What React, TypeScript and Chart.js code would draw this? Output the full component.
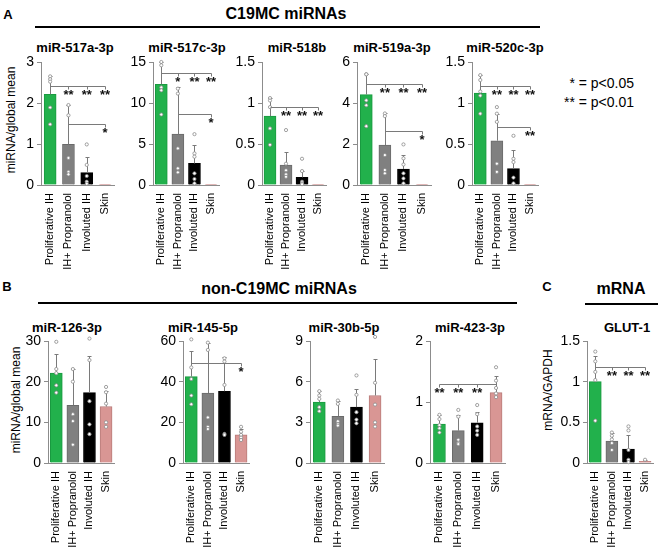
import React, { useEffect, useRef } from 'react';
import { Chart, registerables } from 'chart.js';

Chart.register(...registerables);
Chart.defaults.font.family = '"Liberation Sans", Arial, sans-serif';

// ---------- data ----------
const categories = ['Proliferative IH', 'IH+ Propranolol', 'Involuted IH', 'Skin'];

// miR-517a-3p
const mir517aMeans = [2.21, 0.99, 0.3, 0.005];
const mir517aErrs = [0.45, 0.95, 0.39, 0];
const mir517aPoints = [[2.65, 2.58, 2.52, 1.89, 1.48], [1.95, 1.7, 0.66, 0.32, 0.26], [0.99, 0.49, 0.22, 0.08, 0.03], []];
const mir517aSig = [
  { y: 2.42, from: 0, to: 3, marks: [[1, '**'], [2, '**'], [3, '**']] },
  { y: 1.48, from: 1, to: 3, marks: [[3, '*']] },
];

// miR-517c-3p
const mir517cMeans = [12.28, 6.2, 2.63, 0.03];
const mir517cErrs = [2.7, 5.76, 2.23, 0];
const mir517cPoints = [[15.0, 14.6, 11.9, 11.55, 8.6], [11.75, 11.15, 4.46, 2.03, 1.54], [6.2, 3.85, 3.45, 1.42, 0.73, 0.2], []];
const mir517cSig = [
  { y: 13.6, from: 0, to: 3, marks: [[1, '*'], [2, '**'], [3, '**']] },
  { y: 8.6, from: 1, to: 3, marks: [[3, '*']] },
];

// miR-518b
const mir518bMeans = [0.84, 0.243, 0.093, 0.003];
const mir518bErrs = [0.22, 0.16, 0.08, 0];
const mir518bPoints = [[1.06, 1.03, 0.95, 0.69, 0.49], [0.67, 0.26, 0.18, 0.13, 0.1], [0.32, 0.17, 0.04, 0.02, 0.01], []];
const mir518bSig = [{ y: 0.95, from: 0, to: 3, marks: [[1, '**'], [2, '**'], [3, '**']] }];

// miR-519a-3p
const mir519aMeans = [4.41, 1.95, 0.78, 0.01];
const mir519aErrs = [1.0, 1.54, 0.68, 0];
const mir519aPoints = [[5.4, 5.4, 4.13, 3.89, 2.87], [3.49, 3.36, 1.46, 0.73, 0.57], [1.98, 1.3, 1.0, 0.57, 0.32, 0.08], []];
const mir519aSig = [
  { y: 4.95, from: 0, to: 3, marks: [[1, '**'], [2, '**'], [3, '**']] },
  { y: 2.63, from: 1, to: 3, marks: [[3, '*']] },
];

// miR-520c-3p
const mir520cMeans = [1.12, 0.54, 0.2, 0.003];
const mir520cErrs = [0.22, 0.33, 0.23, 0];
const mir520cPoints = [[1.34, 1.28, 1.14, 1.09, 0.87], [0.95, 0.87, 0.77, 0.26, 0.16], [0.6, 0.32, 0.28, 0.09, 0.02], []];
const mir520cSig = [
  { y: 1.21, from: 0, to: 3, marks: [[1, '**'], [2, '**'], [3, '**']] },
  { y: 0.71, from: 1, to: 3, marks: [[3, '**']] },
];

// miR-126-3p
const mir126Means = [22.1, 14.2, 17.3, 13.9];
const mir126Errs = [4.7, 8.9, 9.1, 3.7];
const mir126Points = [[29.8, 23.1, 22.1, 19.1, 17.3], [23.1, 20.0, 12.0, 10.3, 4.5], [30.6, 25.3, 15.2, 9.5, 7.1], [18.7, 17.4, 14.6, 10.0, 8.9]];
const mir126Sig = [];

// miR-145-5p
const mir145Means = [42.5, 34.4, 35.3, 13.8];
const mir145Errs = [12.6, 24.8, 16.6, 2.7];
const mir145Points = [[60.8, 47.0, 41.3, 33.2, 28.9], [59.2, 55.6, 22.4, 17.8, 16.7], [51.5, 49.9, 38.4, 14.3, 13.8], [17.8, 15.4, 13.8, 12.5, 11.3]];
const mir145Sig = [{ y: 49.1, from: 0, to: 3, marks: [[3, '*']] }];

// miR-30b-5p
const mir30bMeans = [4.49, 3.45, 4.12, 4.98];
const mir30bErrs = [0.81, 1.16, 1.35, 2.71];
const mir30bPoints = [[5.3, 4.98, 4.73, 4.12, 3.82], [4.61, 4.36, 3.08, 2.88, 2.76], [6.46, 5.03, 3.75, 3.2, 2.93], [9.3, 5.92, 4.31, 3.0, 2.69]];
const mir30bSig = [];

// miR-423-3p
const mir423Means = [0.64, 0.53, 0.66, 1.155];
const mir423Errs = [0.15, 0.26, 0.17, 0.265];
const mir423Points = [[0.79, 0.72, 0.62, 0.57, 0.5], [0.87, 0.76, 0.38, 0.33, 0.31], [0.95, 0.8, 0.6, 0.53, 0.46], [1.57, 1.35, 1.23, 1.14, 1.08]];
const mir423Sig = [{ y: 1.29, from: 0, to: 3, marks: [[0, '**'], [1, '**'], [2, '**']] }];

// GLUT-1
const glut1Means = [1.0, 0.27, 0.17, 0.02];
const glut1Errs = [0.31, 0.1, 0.18, 0.015];
const glut1Points = [[1.37, 1.25, 1.12, 1.02, 0.52], [0.375, 0.335, 0.29, 0.245, 0.16], [0.45, 0.4, 0.16, 0.04, 0.01], [0.04]];
const glut1Sig = [{ y: 1.18, from: 0, to: 3, marks: [[1, '**'], [2, '**'], [3, '**']] }];

// ---------- styles / layout ----------
const barColors = ['#22b14c', '#808080', '#000000', '#d99694'];
const barBorders = ['#1a9a40', '#6a6a6a', '#000000', '#b87c7a'];
const AXIS = '#8c8c8c';
const ERR = '#7a7a7a';

const panels = [
  { title: 'miR-517a-3p', means: mir517aMeans, errs: mir517aErrs, points: mir517aPoints, sig: mir517aSig, yMax: 3, yStep: 1, left: 41, right: 121, top: 62, bottom: 185 },
  { title: 'miR-517c-3p', means: mir517cMeans, errs: mir517cErrs, points: mir517cPoints, sig: mir517cSig, yMax: 15, yStep: 5, left: 153, right: 227, top: 62, bottom: 185 },
  { title: 'miR-518b', means: mir518bMeans, errs: mir518bErrs, points: mir518bPoints, sig: mir518bSig, yMax: 1.5, yStep: 0.5, left: 262, right: 334, top: 62, bottom: 185 },
  { title: 'miR-519a-3p', means: mir519aMeans, errs: mir519aErrs, points: mir519aPoints, sig: mir519aSig, yMax: 6, yStep: 2, left: 357, right: 438, top: 62, bottom: 185 },
  { title: 'miR-520c-3p', means: mir520cMeans, errs: mir520cErrs, points: mir520cPoints, sig: mir520cSig, yMax: 1.5, yStep: 0.5, left: 472, right: 546, top: 62, bottom: 185 },
  { title: 'miR-126-3p', means: mir126Means, errs: mir126Errs, points: mir126Points, sig: mir126Sig, yMax: 30, yStep: 10, left: 48, right: 122, top: 341, bottom: 463 },
  { title: 'miR-145-5p', means: mir145Means, errs: mir145Errs, points: mir145Points, sig: mir145Sig, yMax: 60, yStep: 20, left: 183, right: 257, top: 341, bottom: 463 },
  { title: 'miR-30b-5p', means: mir30bMeans, errs: mir30bErrs, points: mir30bPoints, sig: mir30bSig, yMax: 9, yStep: 3, left: 310, right: 391, top: 341, bottom: 463 },
  { title: 'miR-423-3p', means: mir423Means, errs: mir423Errs, points: mir423Points, sig: mir423Sig, yMax: 2, yStep: 1, left: 430, right: 512, top: 341, bottom: 463 },
  { title: 'GLUT-1', means: glut1Means, errs: glut1Errs, points: glut1Points, sig: glut1Sig, yMax: 1.5, yStep: 0.5, left: 587, right: 661, top: 341, bottom: 463 },
];

const W_Y = 40;
const PT = 12;
const PR = 6;
const H_X = 85;

function BarPanel({ p }: { p: any }) {
  const ref = useRef<HTMLCanvasElement | null>(null);
  const plotW = p.right - p.left;
  const plotH = p.bottom - p.top;
  const width = W_Y + plotW + PR;
  const height = PT + plotH + H_X;

  useEffect(() => {
    if (!ref.current) return;
    const pointData: any[] = [];
    p.points.forEach((arr: number[], i: number) => arr.forEach((v) => pointData.push({ x: categories[i], y: v })));

    const overlay = {
      id: 'errSig',
      afterDatasetDraw(chart: any, args: any) {
        if (args.index !== 0) return;
        const { ctx, scales } = chart;
        const xs = scales.x, ys = scales.y;
        ctx.save();
        ctx.strokeStyle = ERR;
        ctx.lineWidth = 1;
        p.errs.forEach((e: number, i: number) => {
          if (!e) return;
          const px = Math.round(xs.getPixelForValue(i)) + 0.5;
          const y0 = ys.getPixelForValue(p.means[i]);
          const y1 = Math.round(ys.getPixelForValue(p.means[i] + e)) + 0.5;
          ctx.beginPath();
          ctx.moveTo(px, y0);
          ctx.lineTo(px, y1);
          ctx.moveTo(px - 2, y1);
          ctx.lineTo(px + 2, y1);
          ctx.stroke();
        });
        ctx.restore();
      },
      afterDatasetsDraw(chart: any) {
        const { ctx, scales } = chart;
        const xs = scales.x, ys = scales.y;
        ctx.save();
        ctx.strokeStyle = ERR;
        ctx.lineWidth = 1;
        ctx.fillStyle = '#111';
        ctx.font = 'bold 13px "Liberation Sans", Arial, sans-serif';
        ctx.textAlign = 'center';
        ctx.textBaseline = 'top';
        p.sig.forEach((b: any) => {
          const yb = Math.round(ys.getPixelForValue(b.y)) + 0.5;
          const xa = Math.round(xs.getPixelForValue(b.from)) + 0.5;
          const xb = Math.round(xs.getPixelForValue(b.to)) + 0.5;
          ctx.beginPath();
          ctx.moveTo(xa, yb);
          ctx.lineTo(xb, yb);
          b.marks.forEach((m: any) => {
            const xm = Math.round(xs.getPixelForValue(m[0])) + 0.5;
            ctx.moveTo(xm, yb);
            ctx.lineTo(xm, yb + 3);
          });
          ctx.stroke();
          b.marks.forEach((m: any) => {
            const xm = xs.getPixelForValue(m[0]);
            ctx.fillText(m[1], xm, yb + 2);
          });
        });
        ctx.restore();
      },
    };

    const chart = new Chart(ref.current, {
      type: 'bar',
      data: {
        labels: categories,
        datasets: [
          {
            type: 'bar',
            data: p.means,
            backgroundColor: barColors,
            borderColor: barBorders,
            borderWidth: 1,
            barThickness: 12,
            order: 2,
          } as any,
          {
            type: 'scatter',
            data: pointData,
            pointRadius: 1.6,
            pointBackgroundColor: '#ffffff',
            pointBorderColor: '#8a8a8a',
            pointBorderWidth: 0.8,
            order: 1,
            clip: false,
          } as any,
        ],
      },
      options: {
        responsive: false,
        animation: false,
        events: [],
        layout: { padding: { top: PT, right: PR, left: 0, bottom: 0 } },
        plugins: { legend: { display: false }, tooltip: { enabled: false } },
        scales: {
          x: {
            type: 'category',
            offset: true,
            grid: { display: false, drawTicks: false },
            border: { display: true, color: AXIS },
            ticks: { autoSkip: false, minRotation: 90, maxRotation: 90, padding: 8, font: { size: 11 }, color: '#000' },
            afterFit: (s: any) => { s.height = H_X; },
          },
          y: {
            min: 0,
            max: p.yMax,
            ticks: { stepSize: p.yStep, padding: 3, font: { size: 14 }, color: '#000', callback: (v: any) => String(+v) },
            grid: { drawOnChartArea: false, drawTicks: true, tickLength: 4, color: AXIS },
            border: { display: true, color: AXIS },
            afterFit: (s: any) => { s.width = W_Y; },
          },
        },
      } as any,
      plugins: [overlay],
    });
    return () => chart.destroy();
  }, []);

  return (
    <canvas
      ref={ref}
      width={width}
      height={height}
      style={{ position: 'absolute', left: p.left - W_Y, top: p.top - PT, width, height }}
    />
  );
}

const FONT = '"Liberation Sans", Arial, sans-serif';

function Txt({ x, y, children, size = 13, bold = false, rotate = false }: any) {
  return (
    <div
      style={{
        position: 'absolute',
        left: x,
        top: y,
        transform: `translate(-50%, -50%)${rotate ? ' rotate(-90deg)' : ''}`,
        whiteSpace: 'nowrap',
        fontFamily: FONT,
        fontSize: size,
        fontWeight: bold ? 'bold' : 'normal',
        lineHeight: 1,
        color: '#000',
      }}
    >
      {children}
    </div>
  );
}

const subTitleX = [75, 187, 297, 392, 505, 67, 203, 344, 470, 627];

export default function App() {
  return (
    <div style={{ position: 'absolute', left: 0, top: 0, width: 669, height: 555, overflow: 'hidden', background: '#fff' }}>
      <Txt x={8} y={14} size={13} bold>A</Txt>
      <Txt x={286} y={14} size={16} bold>C19MC miRNAs</Txt>
      <div style={{ position: 'absolute', left: 35, top: 26, width: 505, height: 2, background: '#000' }} />
      <Txt x={7} y={286} size={13} bold>B</Txt>
      <Txt x={279} y={289} size={16} bold>non-C19MC miRNAs</Txt>
      <div style={{ position: 'absolute', left: 38, top: 302, width: 479, height: 2, background: '#000' }} />
      <Txt x={547} y={286} size={13} bold>C</Txt>
      <Txt x={621} y={289} size={16} bold>mRNA</Txt>
      <div style={{ position: 'absolute', left: 585, top: 303, width: 73, height: 2, background: '#000' }} />

      {panels.map((p, i) => (
        <Txt key={'t' + i} x={subTitleX[i]} y={i < 5 ? 47 : 327} size={13} bold>{p.title}</Txt>
      ))}

      <Txt x={11} y={120} size={12} rotate>miRNA/global mean</Txt>
      <Txt x={16} y={400} size={12} rotate>miRNA/global mean</Txt>
      <Txt x={548} y={390} size={12} rotate>mRNA/GAPDH</Txt>

      <div style={{ position: 'absolute', left: 530, top: 74, width: 104, textAlign: 'right', fontFamily: FONT, fontSize: 14, lineHeight: '19px' }}>
        <div>* = p&lt;0.05</div>
        <div>** = p&lt;0.01</div>
      </div>

      {panels.map((p, i) => (
        <BarPanel key={i} p={p} />
      ))}
    </div>
  );
}
